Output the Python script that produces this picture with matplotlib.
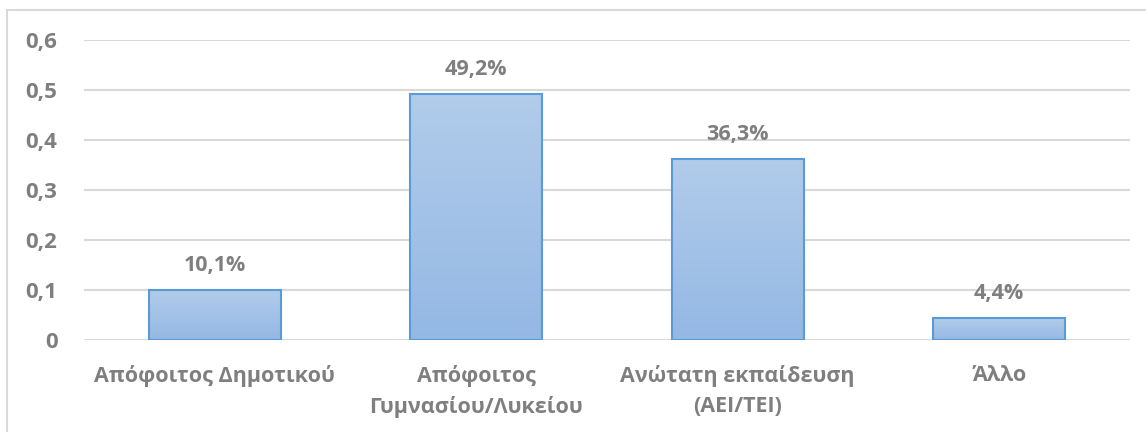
import numpy as np
import matplotlib
matplotlib.use("Agg")
import matplotlib.pyplot as plt
from matplotlib.patches import Rectangle
from matplotlib.colors import LinearSegmentedColormap

plt.rcParams['font.family'] = ['Open Sans', 'DejaVu Sans']
plt.rcParams['font.weight'] = 'bold'

categories = ['Απόφοιτος Δημοτικού', 'Απόφοιτος\nΓυμνασίου/Λυκείου',
              'Ανώτατη εκπαίδευση\n(ΑΕΙ/ΤΕΙ)', 'Άλλο']
values = [0.101, 0.492, 0.363, 0.044]
labels = ['10,1%', '49,2%', '36,3%', '4,4%']
yticks = [0, 0.1, 0.2, 0.3, 0.4, 0.5, 0.6]

grey = '#7F7F7F'
fs = 15.5
W, H = 1146, 432
fig = plt.figure(figsize=(W / 100, H / 100), dpi=100)
# plot area in pixels: left 84, right 1130, top 40 (0.6), bottom 340 (0)
ax = fig.add_axes([84 / W, 1 - 340 / H, (1130 - 84) / W, 300 / H])

# chart border
fig.patches.append(Rectangle((7 / W, -0.1), 1.2, 1 - 10 / H + 0.1,
                             transform=fig.transFigure, fill=False,
                             edgecolor='#D9D9D9', linewidth=1.5))

x = np.arange(len(categories))
bars = ax.bar(x, values, width=0.505, color='none', edgecolor='#5B9BD5',
              linewidth=1.5, zorder=3)

cmap = LinearSegmentedColormap.from_list('g', ['#94B8E4', '#B2CCEA'])
grad = np.linspace(0, 1, 256).reshape(-1, 1)
for b in bars:
    x0, y0 = b.get_x(), b.get_y()
    ax.imshow(grad, cmap=cmap, origin='lower', aspect='auto',
              extent=(x0, x0 + b.get_width(), y0, y0 + b.get_height()),
              zorder=2)

for xi, v, lab in zip(x, values, labels):
    ax.annotate(lab, (xi, v), xytext=(0, 10), textcoords='offset points',
                ha='center', va='bottom', fontsize=fs, fontweight='bold',
                color=grey)

ax.set_xlim(-0.5, len(categories) - 0.5)
ax.set_ylim(0, 0.6)
ax.set_yticks(yticks)
ax.set_yticklabels([('%g' % t).replace('.', ',') for t in yticks])
ax.set_xticks(x)
ax.set_xticklabels(categories, linespacing=1.55)
ax.tick_params(axis='both', length=0, labelsize=fs, labelcolor=grey)
for t in ax.get_xticklabels() + ax.get_yticklabels():
    t.set_fontweight('bold')
ax.tick_params(axis='y', pad=19, labelsize=16)
ax.tick_params(axis='x', pad=18)
ax.grid(axis='y', color='#D9D9D9', linewidth=1.5, zorder=0)
ax.set_axisbelow(True)
for s in ax.spines.values():
    s.set_visible(False)

fig.savefig('out.png', dpi=100)
